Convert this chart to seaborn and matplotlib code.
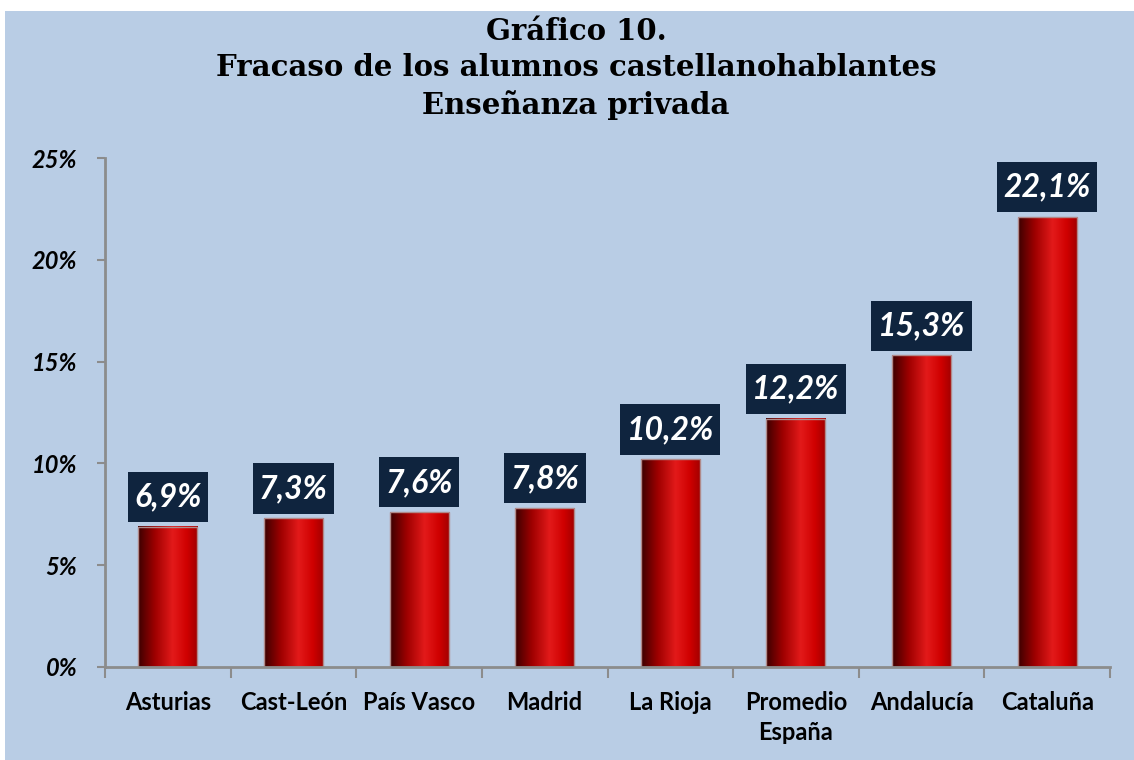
# Gráfico 10 - fracaso de los alumnos castellanohablantes, enseñanza privada
import numpy as np
import pandas as pd
import seaborn as sns
import matplotlib
matplotlib.use("Agg")
import matplotlib.pyplot as plt
from matplotlib.colors import LinearSegmentedColormap
from matplotlib.patches import Rectangle
from matplotlib.path import Path
from matplotlib.ticker import FixedLocator, FuncFormatter

# ----------------------
# datos
# ----------------------
regiones = ["Asturias", "Cast-León", "País Vasco", "Madrid", "La Rioja",
            "Promedio\nEspaña", "Andalucía", "Cataluña"]
fracaso = [6.9, 7.3, 7.6, 7.8, 10.2, 12.2, 15.3, 22.1]
yticks = [0, 5, 10, 15, 20, 25]

titulo = ["Gráfico 10.",
          "Fracaso de los alumnos castellanohablantes",
          "Enseñanza privada"]

df = pd.DataFrame({"region": regiones, "fracaso": fracaso})

fondo = "#b9cde5"
caja = "#0f243e"

sns.set_theme(style="white")
plt.rcParams["font.family"] = ["Lato", "DejaVu Sans"]

fig = plt.figure(figsize=(11.34, 7.6), dpi=100, facecolor="white")
fig.patches.append(Rectangle((5 / 1134, 0), 1, 1 - 11 / 760, transform=fig.transFigure,
                             facecolor=fondo, edgecolor="none", zorder=-10))
ax = fig.add_axes([105 / 1134, 1 - 667 / 760, (1110 - 105) / 1134, (667 - 158) / 760])
ax.set_facecolor("none")

sns.barplot(data=df, x="region", y="fracaso", color="#c00000", width=0.47, ax=ax)

# degradado tipo cilindro (como Excel)
cmap = LinearSegmentedColormap.from_list(
    "cil", [(0, "#3c0000"), (0.28, "#9e0000"), (0.58, "#e31a1a"),
            (0.82, "#cf0000"), (1, "#a00000")])
grad = np.linspace(0, 1, 256).reshape(1, -1)
for p in ax.patches:
    x0, w, h = p.get_x(), p.get_width(), p.get_height()
    ax.imshow(grad, cmap=cmap, extent=[x0, x0 + w, 0, h], aspect="auto",
              zorder=p.get_zorder() + 0.1, interpolation="bicubic")
    p.set_facecolor("none")
    p.set_edgecolor("#b08a8a")
    p.set_linewidth(1.0)
    p.set_zorder(p.get_zorder() + 0.2)

ax.set_xlim(-0.5, len(regiones) - 0.5)
ax.set_ylim(0, 25)


# caja rectangular con más relleno vertical que horizontal
def caja_etiqueta(x0, y0, width, height, mutation_size):
    px, py = 0.2 * mutation_size, 0.33 * mutation_size
    x0, y0 = x0 - px, y0 - py
    x1, y1 = x0 + width + 2 * px, y0 + height + 2 * py
    return Path([(x0, y0), (x1, y0), (x1, y1), (x0, y1), (x0, y0)],
                closed=True)


# etiquetas de valor
for i, v in enumerate(fracaso):
    ax.annotate(f"{v:.1f}%".replace(".", ","), xy=(i, v), xytext=(0, 21.5),
                textcoords="offset points", ha="center", va="center",
                fontsize=23, fontweight="bold", fontstyle="italic", color="white",
                bbox=dict(boxstyle=caja_etiqueta, facecolor=caja, edgecolor="none"))

# ejes
for s in ["top", "right"]:
    ax.spines[s].set_visible(False)
for s in ["left", "bottom"]:
    ax.spines[s].set_color("#8c8c8c")
    ax.spines[s].set_linewidth(2)

ax.set_yticks(yticks)
ax.yaxis.set_major_formatter(FuncFormatter(lambda y, _: f"{y:.0f}%"))
ax.tick_params(axis="y", left=True, length=6, width=1.5, color="#8c8c8c", pad=14)
for t in ax.get_yticklabels():
    t.set_fontsize(17)
    t.set_fontweight("bold")
    t.set_fontstyle("italic")
    t.set_color("black")

ax.xaxis.set_minor_locator(FixedLocator(np.arange(-0.5, len(regiones), 1)))
ax.tick_params(axis="x", which="major", bottom=False, length=0, pad=17)
ax.tick_params(axis="x", which="minor", bottom=True, length=8, width=1.5, color="#8c8c8c")
ax.set_xticks(range(len(regiones)))
ax.set_xticklabels(regiones, fontsize=17, fontweight="bold", color="black",
                   linespacing=1.4, va="top")
ax.set_xlabel("")
ax.set_ylabel("")

# título
for yy, txt in zip([32, 68, 105], titulo):
    fig.text(576 / 1134, 1 - yy / 760, txt, ha="center", va="center",
             fontsize=21, fontweight="bold", family="DejaVu Serif", color="black")

fig.savefig("out.png", dpi=100, facecolor=fig.get_facecolor())
